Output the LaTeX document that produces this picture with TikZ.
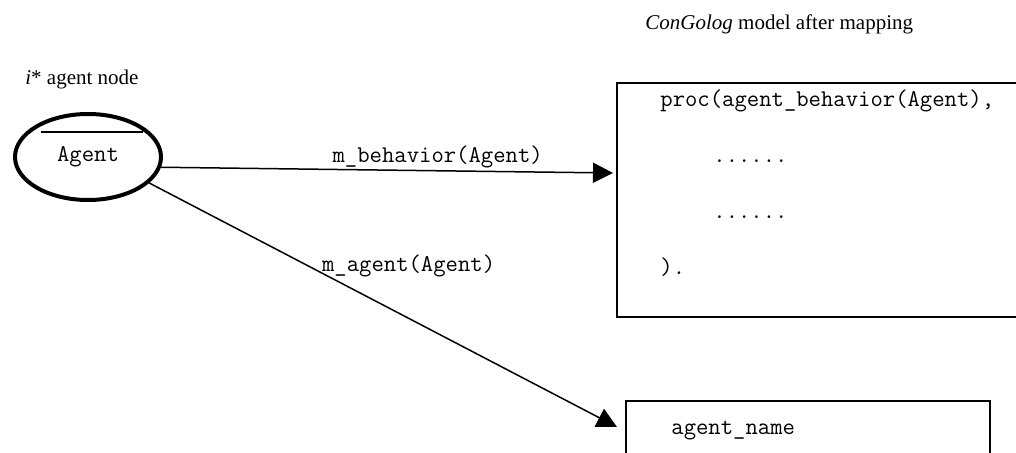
\documentclass[tikz,border=0pt]{standalone}
\usepackage{fontspec}
\setmainfont{Liberation Serif}
\usetikzlibrary{arrows.meta, shapes, calc}
\tikzset{
  every node/.style={align=left, font=\fontsize{10.5}{12.6}\selectfont}
}

\begin{document}
\begin{tikzpicture}[x=0.5pt, y=-0.5pt]
\tikzstyle{agentnode}=[ellipse, draw, line width=2pt, minimum width=73pt,
  minimum height=43pt, inner sep=0pt, font=\fontsize{12}{14.4}\ttfamily]
\tikzstyle{codebox}=[rectangle, draw, line width=0.75pt, inner sep=0pt,
  outer sep=0pt]
\tikzstyle{code}=[inner sep=0pt, anchor=base west,
  font=\fontsize{12}{14.4}\ttfamily]
\tikzstyle{caption}=[inner sep=0pt, anchor=base west]
\tikzstyle{map}=[-{Triangle[length=10pt, width=10pt]}, draw, line width=0.75pt]

\useasboundingbox (0,0) rectangle (1016,453);
\clip (0,0) rectangle (1016,453);

% i* side
\node[caption](icap) at (25,85){\textit{i}* agent node};
\node[agentnode](agent) at (88,157){Agent};
\draw[line width=0.75pt] ($(agent.center)+(-47,-25)$) -- ($(agent.center)+(55,-25)$);

% ConGolog side
\node[caption](gcap) at (645,30){\textit{ConGolog} model after mapping};

% procedure box
\node[codebox, minimum width=220pt, minimum height=117pt](procbox)
  at (837,200){};
\node[code](proc1) at (660,107){proc(agent\_behavior(Agent),};
\node[code](proc2) at (713,163){......};
\node[code](proc3) at (713,219){......};
\node[code](proc4) at (660,275){).};

% agent name box
\node[codebox, minimum width=182pt, minimum height=50pt](namebox)
  at (808,451){};
\node[code](name1) at (671,435){agent\_name};

% mappings
\coordinate (tip1) at ($(procbox.west)+(-4,-27)$);
\coordinate (tip2) at ($(namebox.north west)+(-9,26)$);
\draw[map](agent.-8) -- node[code, pos=0.378, yshift=3.5pt](lbehavior)
  {m\_behavior(Agent)} (tip1);
\draw[map](agent.-23) -- node[code, pos=0.368, yshift=0.5pt](lagent)
  {m\_agent(Agent)} (tip2);

\end{tikzpicture}
\end{document}
